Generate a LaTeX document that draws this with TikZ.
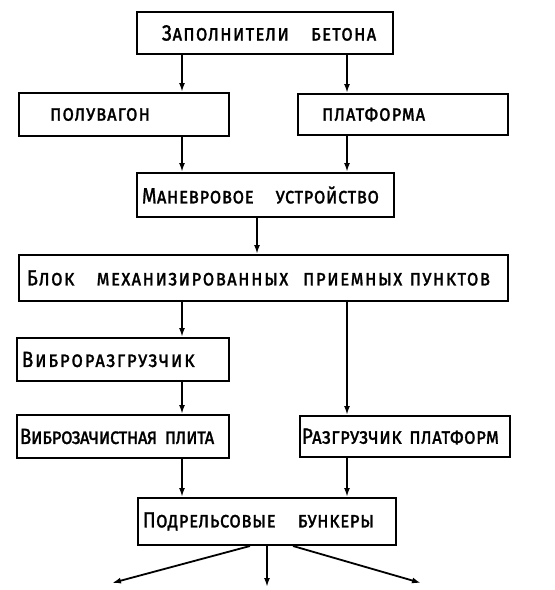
\documentclass[tikz,border=0pt]{standalone}
\usepackage{fontspec}
\setmainfont{Fira Sans}
\newfontfamily\ruka{Fira Sans}[FakeStretch=0.85, FakeBold=1.2]
\usetikzlibrary{arrows.meta}

\begin{document}
\begin{tikzpicture}[x=0.5pt, y=-0.5pt,
    blok/.style={draw, line width=1pt, align=left, inner ysep=0pt,
      font=\ruka\scshape\fontsize{11}{12}\selectfont\addfontfeature{LetterSpace=#1}},
    blok/.default=4,
    strelka/.style={line width=0.9pt, -{Latex[length=4.5pt, width=3pt]}}]
  \useasboundingbox (0,0) rectangle (555,590);
  \node[blok=5, minimum height=21pt, text width=103pt, inner xsep=12.5pt] (zap) at (265,33) {Заполнители~~~бетона};
  \node[blok, minimum height=21.5pt, text width=74pt, inner xsep=15.5pt] (pol) at (124,114.5) {полувагон};
  \node[blok, minimum height=20.5pt, text width=81pt, inner xsep=12pt] (plat) at (403,114.5) {платформа};
  \node[blok=2, minimum height=22pt, text width=123.5pt, inner xsep=2.5pt] (man) at (265.5,195) {Маневровое~~~устройство};
  \node[blok=6, minimum height=23pt, text width=236.5pt, inner xsep=4pt] (punkty) at (263.5,278) {Блок~~~механизированных~~приемных~пунктов};
  \node[blok=7.5, minimum height=21.5pt, text width=101pt, inner xsep=2.5pt] (vibr) at (123,359.5) {Виброразгрузчик};
  \node[blok=-2, minimum height=21.5pt, text width=103pt, inner xsep=1.5pt] (zach) at (123,436.5) {Виброзачистная~плита};
  \node[blok=2, minimum height=20.5pt, text width=103pt, inner xsep=1pt] (razg) at (405,436.5) {Разгрузчик~платформ};
  \node[blok=2, minimum height=23.5pt, text width=124pt, inner xsep=2.5pt] (bunk) at (267,521.5) {Подрельсовые~~~бункеры};
  \coordinate (kl) at (182,0);
  \coordinate (kr) at (347,0);
  \coordinate (kc) at (257,0);
  \coordinate (v1) at (112,583);
  \coordinate (v2) at (267,587);
  \coordinate (v3) at (421,583);
  \draw[strelka] (zap.south -| kl) -- (pol.north -| kl);
  \draw[strelka] (zap.south -| kr) -- (plat.north -| kr);
  \draw[strelka] (pol.south -| kl) -- (man.north -| kl);
  \draw[strelka] (plat.south -| kr) -- (man.north -| kr);
  \draw[strelka] (man.south -| kc) -- (punkty.north -| kc);
  \draw[strelka] (punkty.south -| kl) -- (vibr.north -| kl);
  \draw[strelka] (punkty.south -| kr) -- (razg.north -| kr);
  \draw[strelka] (vibr.south -| kl) -- (zach.north -| kl);
  \draw[strelka] (zach.south -| kl) -- (bunk.north -| kl);
  \draw[strelka] (razg.south -| kr) -- (bunk.north -| kr);
  \draw[strelka] ([xshift=-8.5pt]bunk.south) -- (v1);
  \draw[strelka] (bunk.south) -- (v2);
  \draw[strelka] ([xshift=13pt]bunk.south) -- (v3);
\end{tikzpicture}
\end{document}
